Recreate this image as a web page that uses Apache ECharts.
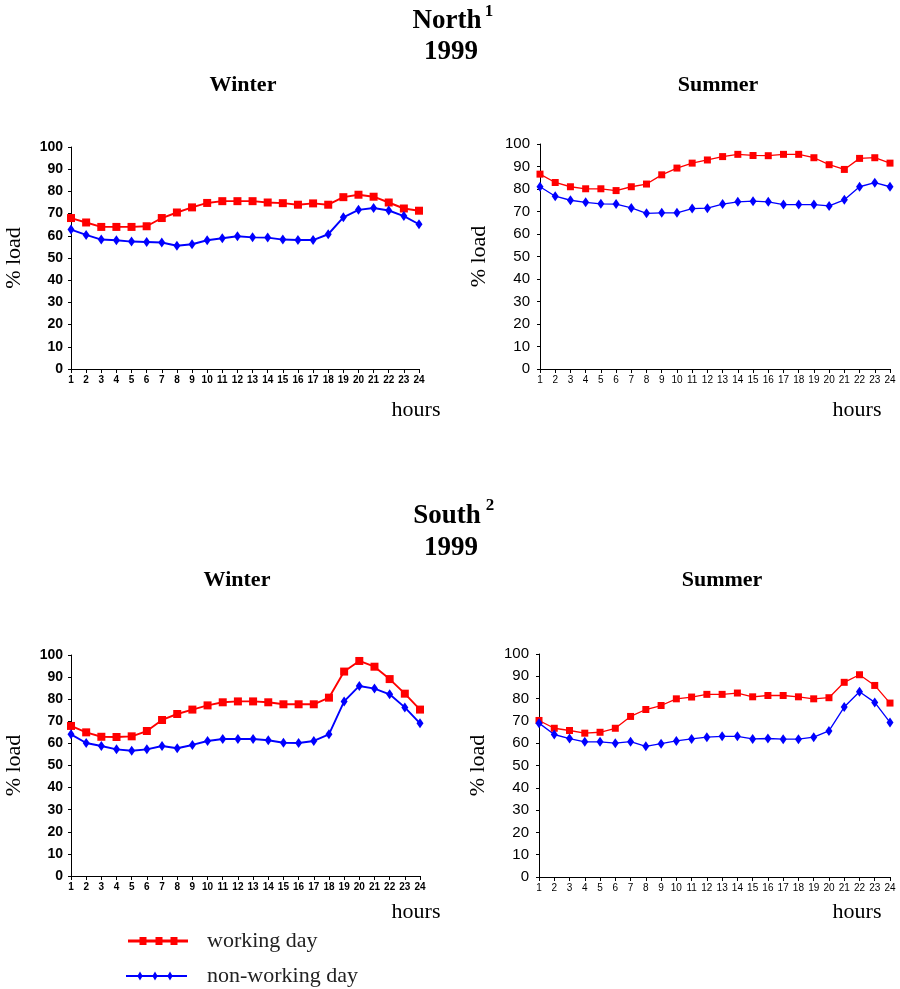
<!DOCTYPE html>
<html>
<head>
<meta charset="utf-8">
<script src="https://cdn.jsdelivr.net/npm/echarts@6/dist/echarts.min.js"></script>
<style>html,body{margin:0;padding:0;background:#fff;}#chart{width:900px;height:989px;}</style>
</head>
<body>
<div id="chart"></div>
<script>
const hours = ['1','2','3','4','5','6','7','8','9','10','11','12','13','14','15','16','17','18','19','20','21','22','23','24'];
const northWinterWork = [68,66,64,64,64,64.3,68,70.5,72.8,74.8,75.6,75.6,75.6,75,74.7,74,74.6,74,77.4,78.5,77.6,75,72.3,71.3];
const northWinterNon  = [62.8,60.4,58.3,58,57.4,57.2,57,55.5,56.2,58,58.9,59.8,59.3,59.2,58.3,58.1,58.1,60.7,68.3,71.7,72.5,71.4,68.9,65.2];
const northSummerWork = [86.6,82.9,81,80.1,80.1,79.3,81,82.2,86.3,89.3,91.5,92.9,94.4,95.4,94.9,94.8,95.4,95.4,93.9,90.8,88.7,93.6,93.9,91.5];
const northSummerNon  = [81,76.8,75,74.1,73.4,73.3,71.6,69.2,69.4,69.4,71.3,71.5,73.3,74.3,74.6,74.3,73.1,73.1,73.1,72.5,75.2,81,82.8,81];
const southWinterWork = [67.9,65,63,62.9,63.2,65.6,70.6,73.3,75.3,77.2,78.6,79,79,78.6,77.7,77.7,77.7,80.7,92.5,97.3,94.7,89.1,82.5,75.3];
const southWinterNon  = [64.1,60.2,58.8,57.3,56.7,57.3,58.8,57.8,59.3,61.1,62,62,62,61.4,60.3,60.2,61.1,64.1,79,86,84.8,82.2,76.3,69.1];
const southSummerWork = [70.2,66.7,65.7,64.5,64.9,66.7,72,75.1,76.9,79.9,80.7,81.9,81.9,82.5,80.8,81.4,81.4,80.8,79.9,80.4,87.3,90.7,85.9,78];
const southSummerNon  = [69,63.9,62.1,60.6,60.6,60,60.7,58.6,59.8,61,61.9,62.7,63.1,63.1,61.9,62.1,61.8,61.8,62.7,65.5,76.2,83.1,78.3,69.3];
const yMin = 0, yMax = 100, yStep = 10;
const seriesNames = ['working day', 'non-working day'];

const serif = '"Liberation Serif", "Times New Roman", serif';
const sans = '"Liberation Sans", Arial, sans-serif';
const RED = '#ff0000', BLUE = '#0000ff';

const panels = [
  {grid:{left:71, top:147, width:348, height:222}, bold:true,  work:northWinterWork, non:northWinterNon, lw:1.9},
  {grid:{left:540, top:144, width:350, height:225}, bold:false, work:northSummerWork, non:northSummerNon, lw:1.3},
  {grid:{left:71, top:655, width:349, height:221}, bold:true,  work:southWinterWork, non:southWinterNon, lw:1.9},
  {grid:{left:539, top:654, width:351, height:223}, bold:false, work:southSummerWork, non:southSummerNon, lw:1.3}
];

const grid = [], xAxis = [], yAxis = [], series = [];
panels.forEach((p, i) => {
  grid.push(Object.assign({containLabel:false}, p.grid));
  xAxis.push({
    type:'category', gridIndex:i, data:hours, boundaryGap:false,
    axisLine:{lineStyle:{color:'#000', width:1}},
    axisTick:{show:true, length:4, interval:0, lineStyle:{color:'#000'}},
    axisLabel:{interval:0, margin:6, color:'#000', fontFamily:sans, fontSize:10, fontWeight:p.bold?'bold':'normal'},
    splitLine:{show:false}
  });
  yAxis.push({
    type:'value', gridIndex:i, min:yMin, max:yMax, interval:yStep,
    name:'% load', nameLocation:'middle', nameRotate:90, nameGap:p.bold?46:50,
    nameTextStyle:{fontFamily:serif, fontSize:22, color:'#000'},
    axisLine:{show:true, lineStyle:{color:'#000', width:1}},
    axisTick:{show:true, length:3, lineStyle:{color:'#000'}},
    axisLabel:{margin:p.bold?8:10, color:'#000', fontFamily:sans, fontSize:p.bold?14:15, fontWeight:p.bold?'bold':'normal'},
    splitLine:{show:false}
  });
  series.push({
    name:seriesNames[0], type:'line', xAxisIndex:i, yAxisIndex:i, data:p.work,
    symbol:'rect', symbolSize:p.bold?8:7, color:RED,
    lineStyle:{color:RED, width:p.lw}, itemStyle:{color:RED}, animation:false
  });
  series.push({
    name:seriesNames[1], type:'line', xAxisIndex:i, yAxisIndex:i, data:p.non,
    symbol:'diamond', symbolSize:[7,10], color:BLUE,
    lineStyle:{color:BLUE, width:p.lw}, itemStyle:{color:BLUE}, animation:false
  });
});

function txt(text, x, y, size, bold, align) {
  return {type:'text', x:x, y:y, style:{text:text, x:0, y:0, fill:'#000', align:align||'center', verticalAlign:'middle',
    font:(bold?'bold ':'') + size + 'px ' + serif}};
}

const graphic = [
  txt('North', 447, 21, 27, true),
  txt('1', 489, 12, 17, true),
  txt('1999', 451, 52, 27, true),
  txt('Winter', 243, 85, 22, true),
  txt('Summer', 718, 85, 22, true),
  txt('South', 447, 516, 27, true),
  txt('2', 490, 506, 17, true),
  txt('1999', 451, 548, 27, true),
  txt('Winter', 237, 580, 22, true),
  txt('Summer', 722, 580, 22, true),
  txt('hours', 416, 410, 22, false),
  txt('hours', 857, 410, 22, false),
  txt('hours', 416, 912, 22, false),
  txt('hours', 857, 912, 22, false)
];

const legendText = {fontFamily:serif, fontSize:22, color:'#222', padding:[0,0,0,14]};
const legend = [
  {
    left:128, top:930, padding:0, itemWidth:60, itemHeight:8, selectedMode:false,
    data:[{name:seriesNames[0], icon:'path://M0,2.6H60V5.4H0Z M11.5,0h7v8h-7Z M27.5,0h7v8h-7Z M42.5,0h7v8h-7Z', itemStyle:{color:RED}}],
    textStyle:legendText
  },
  {
    left:126, top:965, padding:0, itemWidth:61, itemHeight:9, selectedMode:false,
    data:[{name:seriesNames[1], icon:'path://M0,3.6H61V5.4H0Z M14,0L16.6,4.5L14,9L11.4,4.5Z M29,0L31.6,4.5L29,9L26.4,4.5Z M44,0L46.6,4.5L44,9L41.4,4.5Z', itemStyle:{color:BLUE}}],
    textStyle:Object.assign({}, legendText, {padding:[0,0,0,15]})
  }
];

const option = {
  backgroundColor:'#fff',
  animation:false,
  grid, xAxis, yAxis, series, graphic, legend
};

const chart = echarts.init(document.getElementById('chart'), null, {renderer:'canvas'});
chart.setOption(option);
</script>
</body>
</html>
